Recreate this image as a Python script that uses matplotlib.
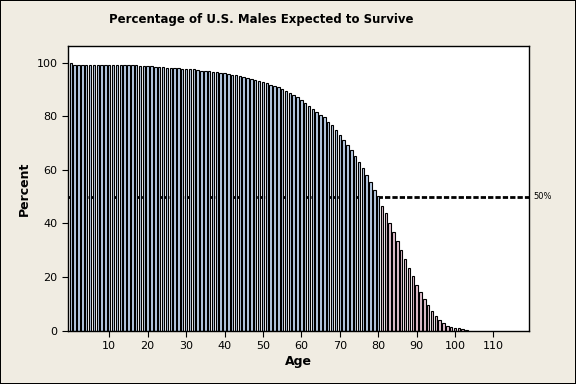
import numpy as np
import matplotlib
matplotlib.use("Agg")
import matplotlib.pyplot as plt

# percent of males still alive at each age
ages = list(range(0, 104))
percent = [
    100.0, 99.3, 99.3, 99.3, 99.3, 99.3, 99.3, 99.3, 99.3, 99.3,
    99.2, 99.2, 99.2, 99.2, 99.2, 99.1, 99.0, 99.0, 98.9, 98.8,
    98.7, 98.6, 98.5, 98.4, 98.3, 98.2, 98.1, 98.0, 97.9, 97.8,
    97.7, 97.6, 97.6, 97.3, 97.0, 96.9, 96.8, 96.5, 96.4, 96.3,
    96.0, 95.7, 95.4, 95.3, 95.0, 94.5, 94.2, 93.9, 93.4, 93.1,
    92.7, 92.3, 91.7, 91.3, 90.8, 90.2, 89.6, 88.7, 87.9, 87.1,
    86.1, 85.1, 84.0, 82.6, 81.6, 80.6, 79.6, 78.0, 76.7, 74.9,
    73.0, 71.2, 69.3, 67.6, 65.2, 63.1, 60.6, 58.1, 55.6, 52.5,
    50.3, 46.5, 44.0, 40.3, 36.8, 33.5, 30.1, 26.8, 23.3, 20.4,
    17.0, 14.4, 11.8, 9.6, 7.3, 5.5, 4.1, 3.0, 1.9, 1.4,
    0.9, 0.8, 0.5, 0.4,
]
x_ticks = [10, 20, 30, 40, 50, 60, 70, 80, 90, 100, 110]
y_ticks = [0, 20, 40, 60, 80, 100]
median_line = 50

bg = "#f0ece2"
blue = "#b9cde6"
pink = "#e4c2d0"

fig = plt.figure(figsize=(5.76, 3.84), dpi=100)
fig.patch.set_facecolor(bg)
fig.patch.set_edgecolor("black")
fig.patch.set_linewidth(1.2)
ax = fig.add_axes([0.118, 0.139, 0.800, 0.741])

colors = [blue if a <= 80 else pink for a in ages]
ax.bar(ages, percent, width=0.64, color=colors, edgecolor="black",
       linewidth=0.8, zorder=2)

# dashed 50% line sits behind the bars
ax.axhline(median_line, color="black", lw=2.0, ls=(0, (1.9, 0.75)), zorder=1)
ax.text(1.01, median_line, "50%", transform=ax.get_yaxis_transform(),
        fontsize=6, va="center", ha="left")

ax.set_xlim(-0.75, 119.2)
ax.set_ylim(0, 106.2)
ax.set_xticks(x_ticks)
ax.set_yticks(y_ticks)
ax.tick_params(labelsize=8, length=4, width=0.8, direction="out")
for s in ax.spines.values():
    s.set_linewidth(1.0)
    s.set_zorder(3)

ax.set_xlabel("Age", fontsize=9, fontweight="bold", labelpad=3)
ax.set_ylabel("Percent", fontsize=9, fontweight="bold", labelpad=4)
fig.text(0.453, 0.95, "Percentage of U.S. Males Expected to Survive",
         fontsize=8.5, fontweight="bold", ha="center", va="center")

fig.savefig("out.png", dpi=100, facecolor=fig.get_facecolor(),
            edgecolor=fig.get_edgecolor())
